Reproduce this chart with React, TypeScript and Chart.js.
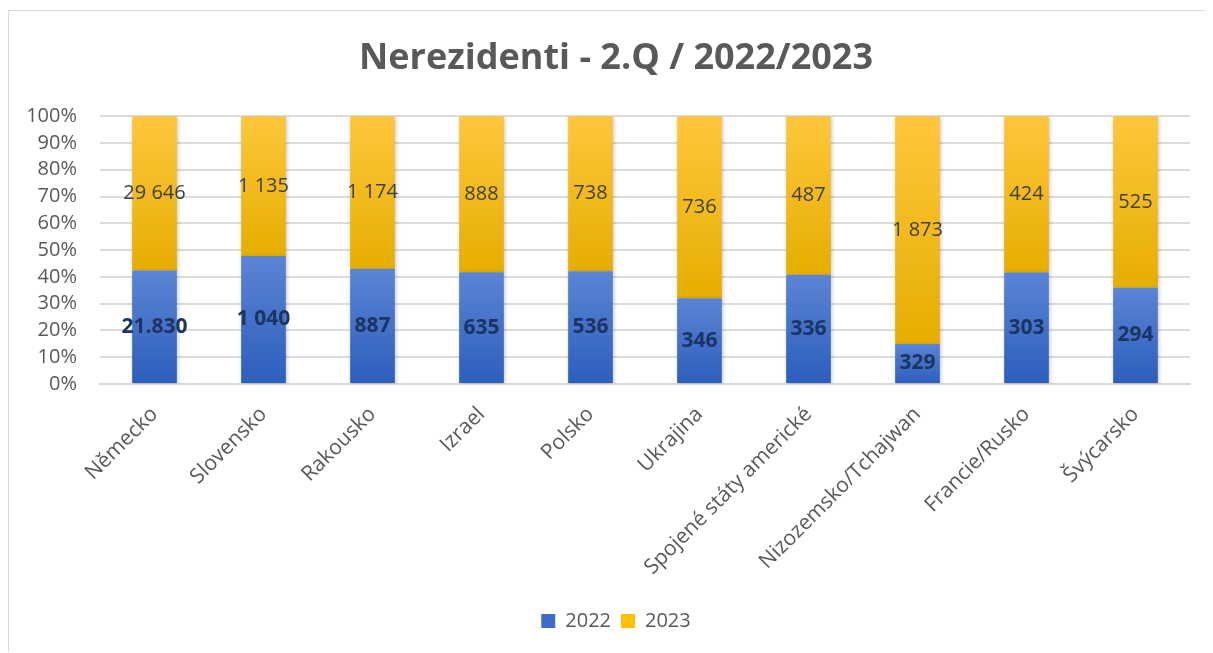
import React, { useEffect, useRef } from "react";
import { Chart, registerables } from "chart.js";

Chart.register(...registerables);

const chartTitle = "Nerezidenti - 2.Q / 2022/2023";
const categories = [
  "Německo",
  "Slovensko",
  "Rakousko",
  "Izrael",
  "Polsko",
  "Ukrajina",
  "Spojené státy americké",
  "Nizozemsko/Tchajwan",
  "Francie/Rusko",
  "Švýcarsko",
];
const seriesNames = ["2022", "2023"];
const values2022 = [21830, 1040, 887, 635, 536, 346, 336, 329, 303, 294];
const values2023 = [29646, 1135, 1174, 888, 738, 736, 487, 1873, 424, 525];
const labels2022 = ["21.830", "1 040", "887", "635", "536", "346", "336", "329", "303", "294"];
const labels2023 = ["29 646", "1 135", "1 174", "888", "738", "736", "487", "1 873", "424", "525"];
const yTicks = [0, 10, 20, 30, 40, 50, 60, 70, 80, 90, 100];

const pct2022 = values2022.map((v, i) => (v / (v + values2023[i])) * 100);
const pct2023 = values2023.map((v, i) => (v / (v + values2022[i])) * 100);

const FONT = "'Open Sans', 'DejaVu Sans', sans-serif";
const GREY = "#595959";
const legendColors = ["#3f6cc8", "#ffc000"];

function makeGradient(ctx: any, top: string, bottom: string, solid: string, isFirst: boolean) {
  const chart = ctx.chart;
  const i = ctx.dataIndex;
  if (!chart.chartArea || i === undefined || ctx.type !== "data") return solid;
  const y = chart.scales.y;
  const start = isFirst ? 0 : pct2022[i];
  const end = isFirst ? pct2022[i] : 100;
  const yTop = y.getPixelForValue(end);
  const yBot = y.getPixelForValue(start);
  const g = chart.ctx.createLinearGradient(0, yTop, 0, yBot);
  g.addColorStop(0, top);
  g.addColorStop(1, bottom);
  return g;
}

const labelPlugin = {
  id: "segLabels",
  afterDatasetsDraw(chart: any) {
    const ctx = chart.ctx;
    ctx.save();
    ctx.textAlign = "center";
    ctx.textBaseline = "middle";
    chart.data.datasets.forEach((ds: any, di: number) => {
      const meta = chart.getDatasetMeta(di);
      const texts = di === 0 ? labels2022 : labels2023;
      ctx.font = di === 0 ? `bold 21px ${FONT}` : `20px ${FONT}`;
      ctx.fillStyle = di === 0 ? "#1c3461" : "#404040";
      meta.data.forEach((el: any, i: number) => {
        const cy = (el.y + el.base) / 2;
        ctx.fillText(texts[i], el.x, cy);
      });
    });
    ctx.restore();
  },
};

const shadowPlugin = {
  id: "barShadow",
  beforeDatasetDraw(chart: any) {
    const ctx = chart.ctx;
    ctx.save();
    ctx.shadowColor = "rgba(0,0,0,0.22)";
    ctx.shadowBlur = 4;
    ctx.shadowOffsetX = 1;
    ctx.shadowOffsetY = 1;
  },
  afterDatasetDraw(chart: any) {
    chart.ctx.restore();
  },
};

export default function App() {
  const ref = useRef<HTMLCanvasElement | null>(null);

  useEffect(() => {
    if (!ref.current) return;
    const chart = new Chart(ref.current, {
      type: "bar",
      data: {
        labels: categories,
        datasets: [
          {
            label: seriesNames[0],
            data: pct2022,
            backgroundColor: (ctx: any) => makeGradient(ctx, "#5b84d4", "#2c5ebd", "#4472c4", true),
            borderWidth: 0,
            barPercentage: 0.41,
            categoryPercentage: 1,
          },
          {
            label: seriesNames[1],
            data: pct2023,
            backgroundColor: (ctx: any) => makeGradient(ctx, "#ffc63c", "#e6ae00", "#ffc000", false),
            borderWidth: 0,
            barPercentage: 0.41,
            categoryPercentage: 1,
          },
        ],
      },
      options: {
        animation: false,
        responsive: true,
        maintainAspectRatio: false,
        layout: { padding: { left: 10, right: 0, top: 0, bottom: 11 } },
        plugins: {
          title: {
            display: true,
            text: chartTitle,
            color: GREY,
            font: { family: FONT, size: 36, weight: "bold" },
            padding: { top: 26, bottom: 36 },
          },
          legend: {
            position: "bottom",
            labels: {
              color: GREY,
              font: { family: FONT, size: 20 },
              boxWidth: 14,
              boxHeight: 14,
              padding: 10,
              generateLabels: (c: any) =>
                Chart.defaults.plugins.legend.labels.generateLabels(c).map((l: any, i: number) => ({
                  ...l,
                  fillStyle: legendColors[i],
                  strokeStyle: legendColors[i],
                  lineWidth: 0,
                })),
            },
          },
          tooltip: { enabled: false },
        },
        scales: {
          x: {
            stacked: true,
            grid: { display: false },
            border: { display: true, color: "#d9d9d9", width: 2 },
            ticks: {
              color: GREY,
              font: { family: FONT, size: 21 },
              minRotation: 45,
              maxRotation: 45,
              autoSkip: false,
              padding: 10,
            },
            afterFit: (s: any) => {
              s.height = 217;
            },
          },
          y: {
            stacked: true,
            min: 0,
            max: 100,
            afterBuildTicks: (s: any) => {
              s.ticks = yTicks.map((v) => ({ value: v }));
            },
            grid: { color: "#dcdcdc", lineWidth: 2, drawTicks: false },
            border: { display: false },
            ticks: {
              color: GREY,
              font: { family: FONT, size: 20 },
              padding: 23,
              autoSkip: false,
              callback: (v: any) => `${v}%`,
            },
            afterFit: (s: any) => {
              s.width = 81;
            },
          },
          yRight: {
            position: "right",
            display: true,
            min: 0,
            max: 100,
            grid: { display: false, drawOnChartArea: false },
            border: { display: false },
            ticks: { display: false },
            afterFit: (s: any) => {
              s.width = 23;
            },
          },
        },
      },
      plugins: [shadowPlugin, labelPlugin],
    });
    return () => chart.destroy();
  }, []);

  return (
    <div
      style={{
        position: "relative",
        width: 1204,
        height: 641,
        marginTop: 2,
        borderTop: "1px solid #d9d9d9",
        borderLeft: "1px solid #d9d9d9",
        background: "#fff",
      }}
    >
      <canvas ref={ref} />
    </div>
  );
}
